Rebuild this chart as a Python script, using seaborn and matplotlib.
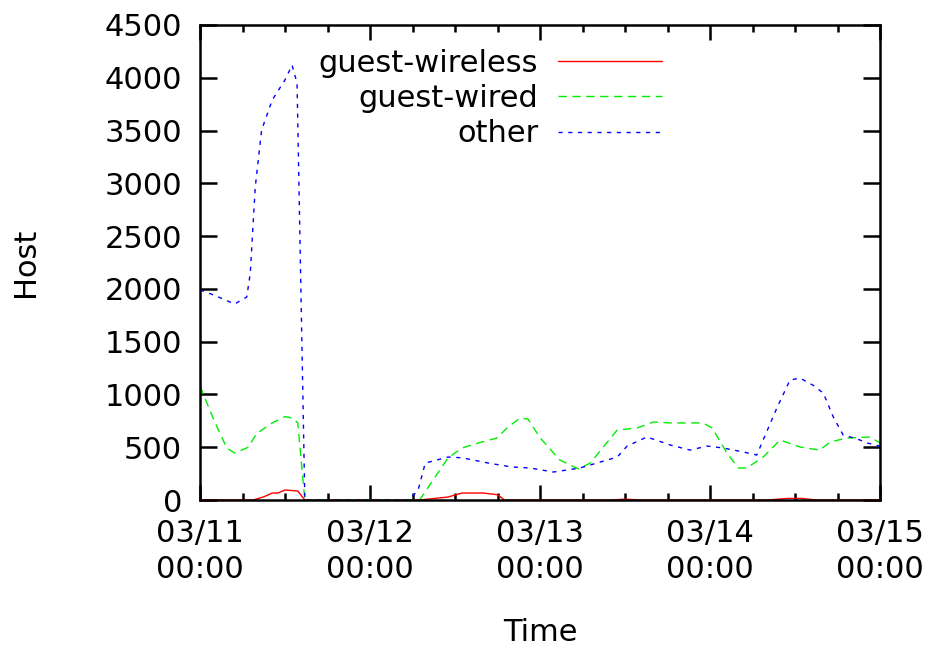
import matplotlib
matplotlib.use("Agg")
import matplotlib.pyplot as plt
import seaborn as sns
import pandas as pd
from matplotlib.ticker import MultipleLocator

# hours since 03/11 00:00
wireless_t = [0, 7.5, 9, 10.2, 11, 12, 13.8, 14.8, 31, 35, 37, 40, 42, 43, 58, 60, 62, 80, 83, 85, 87, 96]
wireless_v = [0, 0, 30, 66, 66, 95, 85, 0, 0, 28, 66, 66, 50, 0, 0, 8, 0, 0, 15, 15, 0, 0]

wired_t = [0, 2, 3.8, 4.9, 6.8, 8, 10.2, 12, 13.1, 13.8, 14.8, 31, 33.2, 35, 37, 39.8, 41.9, 43.5,
           45.2, 46.3, 48, 50.8, 53.4, 55.1, 58.9, 61.7, 64, 66.4, 68.8, 71, 72.3, 74.4, 76, 77.2,
           79.5, 81.9, 84.7, 87.5, 89, 91.3, 94.6, 96]
wired_v = [1080, 750, 490, 445, 500, 630, 730, 790, 775, 730, 0, 0, 218, 398, 493, 550, 587, 692,
           777, 767, 590, 379, 294, 350, 663, 682, 739, 730, 730, 730, 682, 445, 303, 303,
           407, 568, 502, 473, 550, 587, 597, 540]

other_t = [0, 2, 4.9, 6.6, 7.1, 7.8, 8.7, 10.2, 12, 13, 13.7, 14.8, 29.5, 30.8, 31.8, 35, 37, 40.7,
           44, 46.6, 49.9, 53.6, 57.5, 58.9, 60.3, 63.1, 66.4, 69.2, 71.6, 73.8, 76.7, 78.6, 79.5,
           81.5, 83.3, 84.7, 86.5, 88, 89.4, 90.8, 92.8, 94.2, 96]
other_v = [1990, 1940, 1857, 1923, 2150, 2965, 3505, 3790, 3980, 4120, 3950, 0, 0, 95, 350, 407, 400, 350,
           313, 303, 265, 303, 379, 407, 511, 597, 521, 473, 511, 493, 455, 426, 568,
           881, 1137, 1155, 1089, 1013, 787, 616, 578, 540, 510]

day_ticks = [0, 24, 48, 72, 96]
day_labels = ["03/11\n00:00", "03/12\n00:00", "03/13\n00:00", "03/14\n00:00", "03/15\n00:00"]
y_ticks = [0, 500, 1000, 1500, 2000, 2500, 3000, 3500, 4000, 4500]

sns.set_style("ticks")
plt.rcParams['font.family'] = ['DejaVu Sans']
plt.rcParams['text.color'] = 'black'
plt.rcParams['axes.labelcolor'] = 'black'
plt.rcParams['xtick.color'] = 'black'
plt.rcParams['ytick.color'] = 'black'

FS = 22

fig = plt.figure(figsize=(9.32, 6.46), dpi=100)
ax = fig.add_axes([200/932, 1-500/646, 680/932, 475/646])

sns.lineplot(x=wireless_t, y=wireless_v, ax=ax, color="#ff0000", lw=1.0, label="guest-wireless")
sns.lineplot(x=wired_t, y=wired_v, ax=ax, color="#00ee00", lw=1.0, label="guest-wired")
sns.lineplot(x=other_t, y=other_v, ax=ax, color="#0000ff", lw=1.0, label="other")
lines = ax.get_lines()
lines[1].set_dashes([6, 4])
lines[2].set_dashes([3, 4])

ax.set_xlim(0, 96)
ax.set_ylim(0, 4500)
ax.set_xticks(day_ticks)
labs = ax.set_xticklabels(day_labels)
for t in labs:
    t.set_linespacing(1.3)
ax.set_yticks(y_ticks)
ax.xaxis.set_minor_locator(MultipleLocator(6))

for s in ax.spines.values():
    s.set_linewidth(1.8)
    s.set_color("black")
ax.tick_params(which="major", direction="in", top=True, right=True, width=1.8,
               labelsize=FS, labelcolor="black")
ax.tick_params(axis="y", which="major", length=12, pad=13)
ax.tick_params(axis="x", which="major", length=11, pad=14)
ax.tick_params(which="minor", direction="in", top=True, length=5, width=1.8)

ax.set_xlabel("Time", fontsize=FS, labelpad=24)
ax.set_ylabel("Host", fontsize=FS, labelpad=46)

leg = ax.legend(loc="upper right", bbox_to_anchor=(662/932, 1-49/646),
                bbox_transform=fig.transFigure, frameon=False, markerfirst=False,
                fontsize=FS, handlelength=3.4, handletextpad=0.65, labelspacing=0.2,
                borderpad=0, borderaxespad=0)
leg.get_lines()[1].set_dashes([6, 4])
leg.get_lines()[2].set_dashes([3, 4])

fig.savefig("out.png", dpi=100)
